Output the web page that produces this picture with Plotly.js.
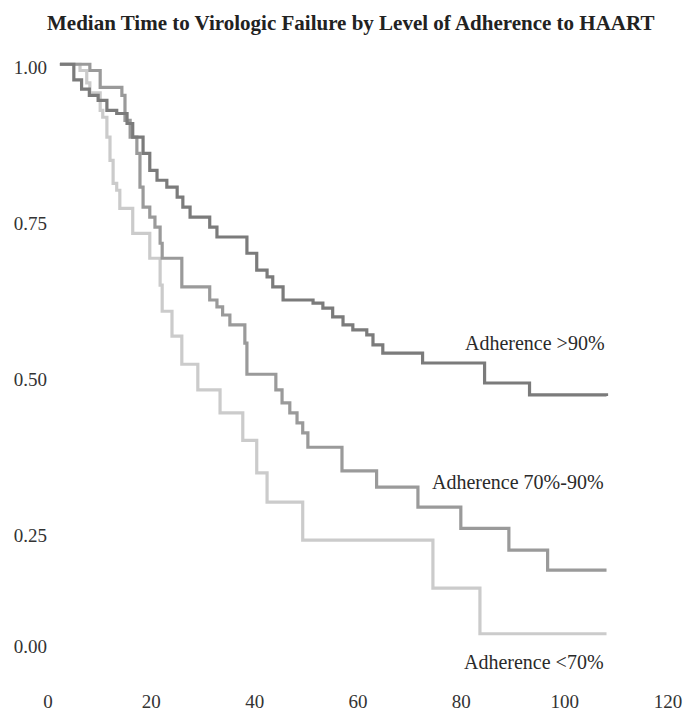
<!DOCTYPE html>
<html>
<head>
<meta charset="utf-8">
<script src="https://cdn.plot.ly/plotly-3.0.1.min.js"></script>
<style>html,body{margin:0;padding:0;background:#fff;}#chart{width:685px;height:713px;}</style>
</head>
<body>
<div id="chart"></div>
<script>
// Months of follow-up and proportion without virologic failure
const timeHigh = [2.3, 5.0, 6.5, 8.0, 9.7, 11.4, 13.3, 15.3, 16.4, 18.4, 19.7, 21.1, 23.0, 25.0, 26.1, 27.5, 31.3, 32.7, 38.5, 40.4, 42.4, 43.5, 45.5, 51.3, 53.2, 55.1, 57.1, 59.0, 61.7, 62.9, 64.8, 72.5, 84.5, 93.2, 108.1];
const survHigh = [1.0, 0.975, 0.96, 0.95, 0.942, 0.926, 0.921, 0.905, 0.883, 0.857, 0.830, 0.814, 0.803, 0.787, 0.771, 0.755, 0.739, 0.723, 0.697, 0.670, 0.659, 0.643, 0.622, 0.617, 0.609, 0.595, 0.582, 0.574, 0.566, 0.550, 0.537, 0.521, 0.489, 0.470, 0.468];

const timeMid = [2.3, 8.1, 10.1, 14.3, 14.9, 15.9, 17.2, 17.8, 18.4, 19.7, 20.7, 21.7, 22.1, 25.9, 31.3, 32.7, 33.8, 35.2, 38.1, 38.5, 44.1, 45.3, 46.8, 48.2, 49.3, 50.3, 56.9, 63.6, 71.6, 79.9, 89.2, 96.7, 108.1];
const survMid = [1.0, 0.990, 0.963, 0.950, 0.910, 0.883, 0.857, 0.803, 0.771, 0.755, 0.739, 0.713, 0.689, 0.643, 0.622, 0.611, 0.598, 0.582, 0.553, 0.503, 0.478, 0.457, 0.441, 0.425, 0.409, 0.386, 0.348, 0.322, 0.290, 0.256, 0.221, 0.189, 0.189];

const timeLow = [2.3, 6.2, 7.5, 8.1, 10.1, 10.6, 11.4, 12.0, 12.6, 13.3, 13.9, 16.4, 19.7, 21.7, 22.1, 24.0, 25.9, 29.0, 33.3, 37.7, 40.4, 42.4, 49.3, 74.5, 83.6, 108.1];
const survLow = [1.0, 0.990, 0.970, 0.954, 0.926, 0.915, 0.883, 0.846, 0.809, 0.798, 0.769, 0.729, 0.689, 0.646, 0.604, 0.564, 0.519, 0.478, 0.441, 0.397, 0.345, 0.298, 0.237, 0.160, 0.087, 0.087];

const seriesNames = ["Adherence >90%", "Adherence 70%-90%", "Adherence <70%"];
const labelX = [108.2, 108.0, 108.0];
const labelY = [0.553, 0.330, 0.042];

const xTickVals = [0, 20, 40, 60, 80, 100, 120];
const yTickVals = [0.072, 0.25, 0.5, 0.75, 1.0];
const yTickText = ["0.00", "0.25", "0.50", "0.75", "1.00"];

const colors = ["#7b7b7b", "#9a9a9a", "#cbcbcb"];
const serif = "Liberation Serif, Times New Roman, serif";

const traces = [
  {x: timeLow, y: survLow, name: seriesNames[2], color: colors[2]},
  {x: timeMid, y: survMid, name: seriesNames[1], color: colors[1]},
  {x: timeHigh, y: survHigh, name: seriesNames[0], color: colors[0]}
].map(s => ({
  type: "scatter", mode: "lines", x: s.x, y: s.y, name: s.name,
  line: {shape: "hv", color: s.color, width: 3.2}, hoverinfo: "skip"
}));

const annotations = seriesNames.map((n, i) => ({
  text: n, x: labelX[i], y: labelY[i], xref: "x", yref: "y",
  xanchor: "right", yanchor: "middle", showarrow: false,
  font: {family: serif, size: 20, color: "#2a2a2a"}
}));

const layout = {
  width: 685, height: 713,
  margin: {l: 48, r: 17, t: 58, b: 25},
  paper_bgcolor: "#fff", plot_bgcolor: "#fff",
  showlegend: false,
  title: {text: "<b>Median Time to Virologic Failure by Level of Adherence to HAART</b>",
          x: 0.512, xanchor: "center", y: 0.968, yanchor: "middle",
          font: {family: serif, size: 21, color: "#222"}},
  xaxis: {range: [0, 120], tickvals: xTickVals, showgrid: false, zeroline: false,
          showline: false, ticks: "", tickfont: {family: serif, size: 19, color: "#333"}},
  yaxis: {range: [0, 1.01], tickvals: yTickVals, ticktext: yTickText,
          showgrid: false, zeroline: false, showline: false, ticks: "",
          ticklabelshift: 3,
          tickfont: {family: serif, size: 19, color: "#333"}},
  annotations: annotations
};

Plotly.newPlot("chart", traces, layout, {displayModeBar: false, staticPlot: true});
</script>
</body>
</html>
